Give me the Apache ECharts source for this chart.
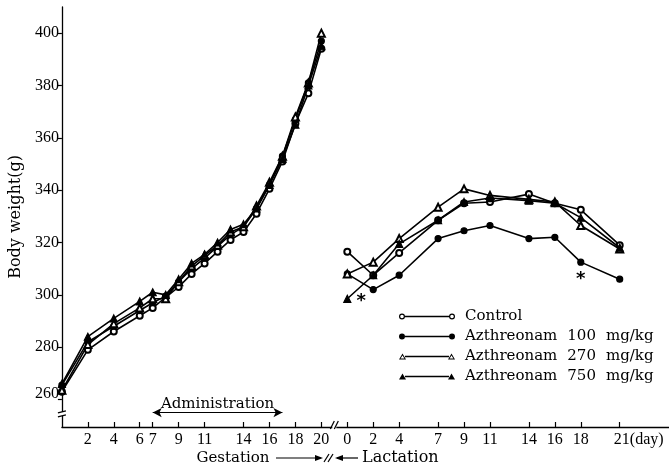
<!DOCTYPE html>
<html>
<head>
<meta charset="utf-8">
<script src="https://cdn.jsdelivr.net/npm/echarts@6/dist/echarts.min.js"></script>
<style>
    html, body { margin: 0; padding: 0; background: #fff; }
    #chart { width: 669px; height: 464px; }
</style>
</head>
<body>
<div id="chart"></div>
<script>
// Days on which the rats were weighed
const GESTATION_DAYS = [0, 2, 4, 6, 7, 8, 9, 10, 11, 12, 13, 14, 15, 16, 17, 18, 19, 20];
const LACTATION_DAYS = [0, 2, 4, 7, 9, 11, 14, 16, 18, 21];
// lactation day 0 is drawn two day-widths after gestation day 20
const LACTATION_OFFSET = 22;

// Body weight (g), gestation period
const GEST_CONTROL = [263, 279, 286, 292, 295, 299, 303, 308, 312, 316.5, 321, 324, 331, 340.5, 351, 365.5, 377, 394];
const GEST_100 = [265.5, 282, 288, 294, 297, 299.5, 305, 310, 314, 318.5, 323, 326, 333, 342, 353, 367, 381, 397];
const GEST_270 = [263.5, 281, 289, 295, 298.5, 298.5, 305, 311, 315, 319, 324, 326, 334, 343, 353, 368, 381, 400];
const GEST_750 = [266, 284, 291, 297.5, 301, 300, 306, 312, 315.5, 320, 325, 327, 333, 342, 352, 365, 380, 395];

// Body weight (g), lactation period
const LACT_CONTROL = [316.5, 307.5, 316, 328.5, 335, 335.5, 338.5, 335, 332.5, 319];
const LACT_100 = [308, 302, 307.5, 321.5, 324.5, 326.5, 321.5, 322, 312.5, 306];
const LACT_270 = [308, 312.5, 321.5, 333.5, 340.5, 338, 336.5, 335.5, 326.5, 317.5];
const LACT_750 = [298.5, 307.5, 319.5, 328.5, 335.5, 337, 336, 335, 329.5, 318];

const SERIES_NAMES = ['Control', 'Azthreonam 100 mg/kg', 'Azthreonam 270 mg/kg', 'Azthreonam 750 mg/kg'];

// Tick labels
const GESTATION_TICKS = [2, 4, 6, 7, 9, 11, 14, 16, 18, 20];
const LACTATION_TICKS = [0, 2, 4, 7, 9, 11, 14, 16, 18, 21];
const Y_TICKS = [260, 280, 300, 320, 340, 360, 380, 400];

// Administration period (gestation days)
const ADMIN_FROM = 7;
const ADMIN_TO = 17;

const SERIF = 'DejaVu Serif';
const NUM_FONT = 'Liberation Serif';

// Legend icons: a line with the group's marker at both ends (56 x 6 box)
const LINE_PATH = 'M6,2.3 L50,2.3 L50,3.7 L6,3.7 Z';
function circleAt(cx, hollow) {
    let p = `M${cx - 3},3 A3,3 0 1,1 ${cx + 3},3 A3,3 0 1,1 ${cx - 3},3 Z`;
    if (hollow) {
        p += ` M${cx - 1.8},3 A1.8,1.8 0 1,0 ${cx + 1.8},3 A1.8,1.8 0 1,0 ${cx - 1.8},3 Z`;
    }
    return p;
}
function triangleAt(cx, hollow) {
    let p = `M${cx - 3.5},6 L${cx},0 L${cx + 3.5},6 Z`;
    if (hollow) {
        p += ` M${cx - 1.9},5.1 L${cx + 1.9},5.1 L${cx},2 Z`;
    }
    return p;
}
const LEGEND_ICONS = [
    'path://' + circleAt(3, true) + ' ' + LINE_PATH + ' ' + circleAt(53, true),
    'path://' + circleAt(3, false) + ' ' + LINE_PATH + ' ' + circleAt(53, false),
    'path://' + triangleAt(3.5, true) + ' ' + LINE_PATH + ' ' + triangleAt(52.5, true),
    'path://' + triangleAt(3.5, false) + ' ' + LINE_PATH + ' ' + triangleAt(52.5, false)
];
const SYMBOLS = ['emptyCircle', 'circle', 'emptyTriangle', 'triangle'];

function starLabel(position, offset) {
    return {
        show: true,
        formatter: '*',
        position: position,
        offset: offset,
        fontFamily: 'DejaVu Sans',
        fontWeight: 'bold',
        fontSize: 18,
        color: '#000'
    };
}

/**
 * Builds one line series (one period of one group).
 */
function makeSeries(groupIndex, days, values, offset, stars) {
    const symbol = SYMBOLS[groupIndex];
    return {
        name: SERIES_NAMES[groupIndex],
        type: 'line',
        symbol: symbol,
        symbolSize: symbol.indexOf('riangle') >= 0 ? 7 : 6,
        data: days.map((d, i) => {
            const item = { value: [d + offset, values[i]] };
            if (stars && stars[d]) {
                item.label = stars[d];
            }
            return item;
        }),
        lineStyle: { color: '#000', width: 1.6 },
        itemStyle: { color: '#000', borderColor: '#000', borderWidth: 1.2 },
        emphasis: { disabled: true },
        animation: false,
        z: 3 + groupIndex
    };
}

const chart = echarts.init(document.getElementById('chart'));

const controlGest = makeSeries(0, GESTATION_DAYS, GEST_CONTROL, 0);
controlGest.markLine = {
    silent: true,
    symbol: ['arrow', 'arrow'],
    symbolSize: [7, 9],
    lineStyle: { color: '#000', width: 1.2, type: 'solid' },
    label: {
        show: true,
        position: 'insideMiddleTop',
        distance: 1,
        formatter: 'Administration',
        fontFamily: SERIF,
        fontSize: 15,
        color: '#000'
    },
    data: [[{ coord: [ADMIN_FROM, 255] }, { coord: [ADMIN_TO, 255] }]]
};

const option = {
    backgroundColor: '#fff',
    animation: false,
    grid: { left: 60, right: 0, top: 7, bottom: 37, containLabel: false },
    legend: {
        orient: 'vertical',
        left: 399,
        top: 309,
        padding: 0,
        itemWidth: 56,
        itemHeight: 6,
        itemGap: 5,
        selectedMode: false,
        formatter: name => '{s|}' + name.split(' ').join('{g| }'),
        textStyle: {
            fontFamily: SERIF,
            fontSize: 15,
            color: '#000',
            rich: {
                s: { width: 5 },
                g: { width: 10, fontFamily: SERIF, fontSize: 15 }
            }
        },
        data: SERIES_NAMES.map((n, i) => ({
            name: n,
            icon: LEGEND_ICONS[i],
            itemStyle: { color: '#000', borderWidth: 0 }
        }))
    },
    xAxis: {
        type: 'value',
        min: 0,
        max: 46.8,
        splitLine: { show: false },
        axisLine: { lineStyle: { color: '#000', width: 1.3 } },
        axisTick: {
            inside: true,
            length: 5,
            lineStyle: { color: '#000', width: 1.2 },
            customValues: GESTATION_TICKS.concat(LACTATION_TICKS.map(d => d + LACTATION_OFFSET))
        },
        axisLabel: {
            margin: 5,
            fontFamily: NUM_FONT,
            fontSize: 16,
            color: '#000',
            customValues: GESTATION_TICKS.concat(LACTATION_TICKS.map(d => d + LACTATION_OFFSET)),
            formatter: v => {
                if (v < LACTATION_OFFSET) return String(v);
                const d = v - LACTATION_OFFSET;
                if (d === 21) return '{p|}21{d|(day)}';
                return String(d);
            },
            rich: {
                p: { width: 38 },
                d: { fontFamily: NUM_FONT, fontSize: 16, color: '#000' }
            }
        }
    },
    yAxis: {
        type: 'value',
        min: 249.5,
        max: 410,
        name: 'Body weight(g)',
        nameLocation: 'middle',
        nameGap: 31,
        nameRotate: 90,
        nameTextStyle: { fontFamily: SERIF, fontSize: 16, color: '#000' },
        splitLine: { show: false },
        axisLine: { show: true, lineStyle: { color: '#000', width: 1.3 } },
        axisTick: {
            show: true,
            length: 4,
            lineStyle: { color: '#000', width: 1.2 },
            customValues: Y_TICKS
        },
        axisLabel: {
            margin: 3,
            fontFamily: NUM_FONT,
            fontSize: 16,
            color: '#000',
            customValues: Y_TICKS,
            // the lowest label sits a little above its tick, next to the axis break
            formatter: v => (v === 260 ? '{up|260}' : String(v)),
            rich: {
                up: { fontFamily: NUM_FONT, fontSize: 16, color: '#000', padding: [0, 0, 12, 0] }
            }
        }
    },
    series: [
        controlGest,
        makeSeries(1, GESTATION_DAYS, GEST_100, 0),
        makeSeries(2, GESTATION_DAYS, GEST_270, 0),
        makeSeries(3, GESTATION_DAYS, GEST_750, 0),
        makeSeries(0, LACTATION_DAYS, LACT_CONTROL, LACTATION_OFFSET),
        makeSeries(1, LACTATION_DAYS, LACT_100, LACTATION_OFFSET, { 18: starLabel('bottom', [0, 0]) }),
        makeSeries(2, LACTATION_DAYS, LACT_270, LACTATION_OFFSET),
        makeSeries(3, LACTATION_DAYS, LACT_750, LACTATION_OFFSET, { 0: starLabel('right', [0, 3]) })
    ]
};
chart.setOption(option);

// Axis breaks and the Gestation / Lactation caption under the axis
const px = (x, y) => chart.convertToPixel({ gridIndex: 0 }, [x, y]);
const axisY = px(0, 249.5)[1];
const axisX = px(0, 249.5)[0];
const yBreak = px(0, 254.5)[1];
const xBreak = px(21, 249.5)[0];
const capY = axisY + 31;
const black = { stroke: '#000', lineWidth: 1.2 };

chart.setOption({
    graphic: [
        // y axis break
        { type: 'rect', shape: { x: axisX - 3, y: yBreak - 2, width: 6, height: 4 }, style: { fill: '#fff' }, z: 100 },
        { type: 'line', shape: { x1: axisX - 4, y1: yBreak - 1, x2: axisX + 4, y2: yBreak - 3 }, style: black, z: 101 },
        { type: 'line', shape: { x1: axisX - 4, y1: yBreak + 3, x2: axisX + 4, y2: yBreak + 1 }, style: black, z: 101 },
        // x axis break
        { type: 'rect', shape: { x: xBreak - 2, y: axisY - 3, width: 4, height: 6 }, style: { fill: '#fff' }, z: 100 },
        { type: 'line', shape: { x1: xBreak - 4, y1: axisY + 2, x2: xBreak, y2: axisY - 6 }, style: black, z: 101 },
        { type: 'line', shape: { x1: xBreak, y1: axisY + 2, x2: xBreak + 4, y2: axisY - 6 }, style: black, z: 101 },
        // caption
        { type: 'text', x: 233, y: capY, style: { text: 'Gestation', font: '15px "DejaVu Serif"', fill: '#000', align: 'center', verticalAlign: 'middle' }, z: 100 },
        { type: 'line', shape: { x1: 276, y1: capY, x2: 321, y2: capY }, style: black, z: 100 },
        { type: 'polygon', shape: { points: [[323, capY], [315, capY - 3], [315, capY + 3]] }, style: { fill: '#000' }, z: 100 },
        { type: 'line', shape: { x1: 324, y1: capY + 4, x2: 329, y2: capY - 4 }, style: black, z: 100 },
        { type: 'line', shape: { x1: 328, y1: capY + 4, x2: 333, y2: capY - 4 }, style: black, z: 100 },
        { type: 'polygon', shape: { points: [[335, capY], [343, capY - 3], [343, capY + 3]] }, style: { fill: '#000' }, z: 100 },
        { type: 'line', shape: { x1: 337, y1: capY, x2: 358, y2: capY }, style: black, z: 100 },
        { type: 'text', x: 362, y: capY, style: { text: 'Lactation', font: '16px "DejaVu Serif"', fill: '#000', align: 'left', verticalAlign: 'middle' }, z: 100 }
    ]
});
</script>
</body>
</html>
